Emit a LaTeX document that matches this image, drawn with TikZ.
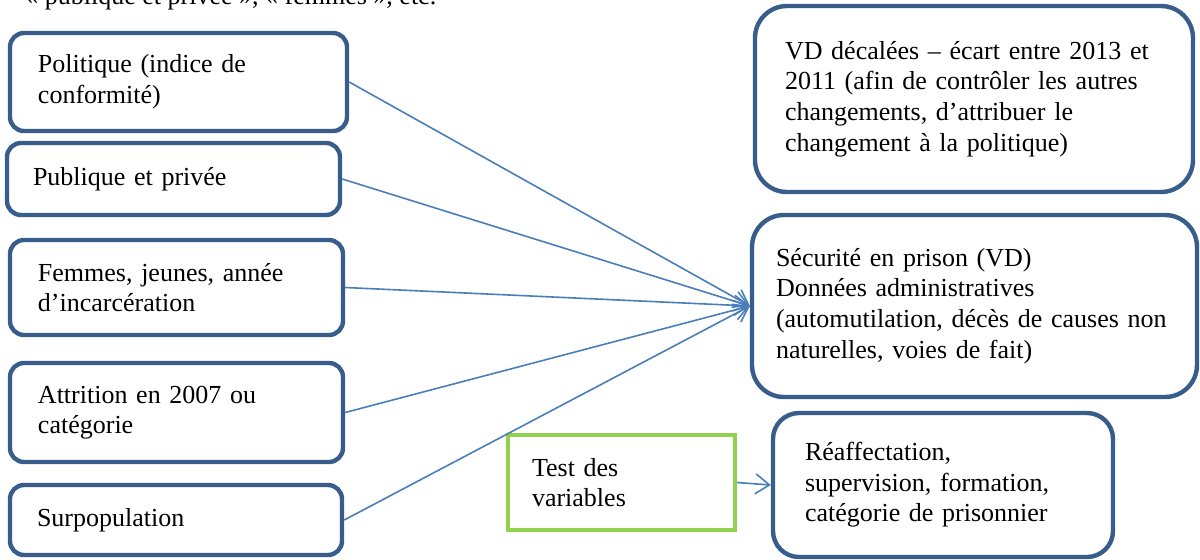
\documentclass[tikz,border=0pt]{standalone}
\usepackage{fontspec}
\setmainfont{Liberation Serif}
\usetikzlibrary{arrows.meta}
\definecolor{boxblue}{HTML}{385D8A}
\definecolor{linkblue}{HTML}{4A7EBB}
\definecolor{testgreen}{HTML}{92D050}
\begin{document}
\begin{tikzpicture}[x=0.5pt,y=-0.5pt,
  box/.style={draw=boxblue, line width=2.2pt, fill=white, align=left,
    font=\fontsize{13}{15.3}\selectfont, inner ysep=0pt},
  greenbox/.style={box, draw=testgreen, line width=2pt},
  link/.style={draw=linkblue, line width=0.8pt, -{Straight Barb[length=7pt,width=10pt]}}]
\useasboundingbox (0,0) rectangle (1200,559);
\clip (0,0) rectangle (1200,559);

\node[anchor=base west, inner sep=0pt, font=\fontsize{13}{15.3}\selectfont] (top) at (25,4)
  {«~publique et privée~», «~femmes~», etc.};

\node[box, rounded corners=7pt, minimum width=168.5pt, minimum height=49pt,
  text width=140.5pt, inner xsep=14pt] (pol) at (178.5,82) {Politique (indice de\\conformité)};
\node[box, rounded corners=7pt, minimum width=166.5pt, minimum height=36pt,
  text width=140.5pt, inner xsep=13pt] (pub) at (173.5,179) {Publique et privée};
\node[box, rounded corners=7pt, minimum width=166.5pt, minimum height=47.5pt,
  text width=138.5pt, inner xsep=14pt] (fem) at (176.5,287.5) {Femmes, jeunes, année\\d’incarcération};
\node[box, rounded corners=7pt, minimum width=166.5pt, minimum height=49.5pt,
  text width=138.5pt, inner xsep=14pt] (att) at (176.5,412.5) {Attrition en 2007 ou\\catégorie};
\node[box, rounded corners=7pt, minimum width=166pt, minimum height=35pt,
  text width=139pt, inner xsep=13.5pt] (sur) at (176,520) {Surpopulation};

\node[box, rounded corners=16pt, minimum width=219pt, minimum height=93pt,
  text width=189pt, inner xsep=15pt] (vd) at (974,99)
  {\mbox{VD décalées – écart entre 2013 et}\\\mbox{2011 (afin de contrôler les autres}\\changements, d’attribuer le\\changement à la politique)\par\vspace{4pt}};
\node[box, rounded corners=16pt, minimum width=222.5pt, minimum height=91pt,
  text width=198.5pt, inner xsep=12pt] (sec) at (974.5,306)
  {Sécurité en prison (VD)\\Données administratives\\\mbox{(automutilation, décès de causes non}\\naturelles, voies de fait)\par\vspace{2pt}};
\node[greenbox, minimum width=113.5pt, minimum height=47.5pt,
  text width=89.5pt, inner xsep=12pt] (test) at (621.5,482.5) {Test des\\variables};
\node[box, rounded corners=13pt, minimum width=170pt, minimum height=72pt,
  text width=138pt, inner xsep=16pt] (rea) at (943,485)
  {Réaffectation,\\supervision, formation,\\catégorie de prisonnier};

\draw[link] (pol.east) -- (sec.west);
\draw[link] (pub.east) -- (sec.west);
\draw[link] (fem.east) -- (sec.west);
\draw[link] (att.east) -- (sec.west);
\draw[link] (sur.east) -- (sec.west);
\draw[link] (test.east) -- (rea.west);
\end{tikzpicture}
\end{document}
